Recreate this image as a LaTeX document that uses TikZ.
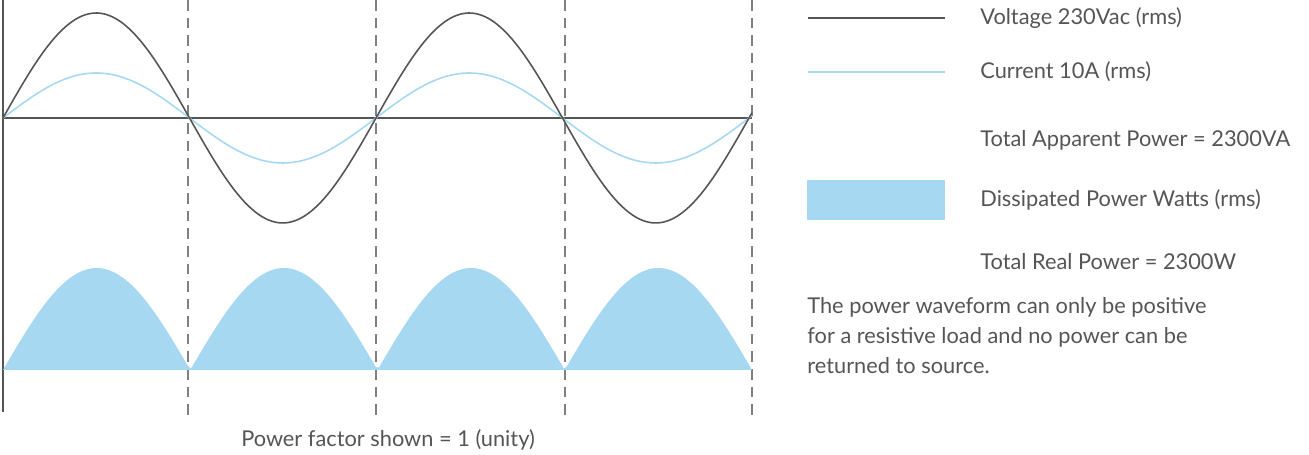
\documentclass[tikz,border=0pt]{standalone}
\usepackage{fontspec}
\setmainfont{Lato}
\usetikzlibrary{positioning}
\definecolor{voltgray}{HTML}{555555}
\definecolor{currblue}{HTML}{A6D8F2}
\begin{document}
\begin{tikzpicture}[
            wave/.style = {line width=0.9pt, samples=120, smooth},
            gridline/.style = {dashed, gray, line width=0.8pt, dash pattern=on 6pt off 4pt},
            legtext/.style = {anchor=west, font=\fontsize{12.4}{15}\selectfont, text=voltgray, inner sep=0},
            powerfill/.style = {fill=currblue, draw=none}
          ]
          \useasboundingbox (0,0) rectangle (26.18,9.1);
          % grid
          \foreach \gx in {3.76,7.52,11.3,15.04} {
            \draw[gridline] (\gx,9.1) -- (\gx,0.8);
          }
          \draw[voltgray, line width=0.8pt] (0.06,9.1) -- (0.06,0.86);
          \draw[voltgray, line width=0.8pt] (0.06,6.74) -- (15.04,6.74);
          % waveforms
          \draw[wave, currblue, domain=0.06:15.04] plot (\x, {6.74+0.9*sin(360*(\x-0.06)/7.46)});
          \draw[wave, voltgray, domain=0.06:15.04] plot (\x, {6.74+2.1*sin(360*(\x-0.06)/7.46)});
          \fill[powerfill, domain=0.06:15.04, samples=240] (0.06,1.7) -- plot (\x, {1.7+2.04*abs(sin(180*(\x-0.06)/3.745))}) -- (15.04,1.7) -- cycle;
          % legend
          \draw[voltgray, line width=0.9pt] (16.16,8.74) -- (18.9,8.74);
          \draw[currblue, line width=0.9pt] (16.16,7.66) -- (18.9,7.66);
          \fill[powerfill] (16.14,4.7) rectangle (18.9,5.5);
          \node[legtext] (volt) at (19.6,8.74) {Voltage 230Vac (rms)};
          \node[legtext] (curr) at (19.6,7.66) {Current 10A (rms)};
          \node[legtext] (appar) at (19.6,6.3) {Total Apparent Power = 2300VA};
          \node[legtext] (dissip) at (19.6,5.1) {Dissipated Power Watts (rms)};
          \node[legtext] (real) at (19.6,3.86) {Total Real Power = 2300W};
          \node[legtext, anchor=north west, align=left, font=\fontsize{12.4}{17}\selectfont] (note) at (16.14,3.15)
            {The power waveform can only be positive\\for a resistive load and no power can be\\returned to source.};
          \node[legtext, anchor=center] (pf) at (7.76,0.3) {Power factor shown = 1 (unity)};
        \end{tikzpicture}
\end{document}
